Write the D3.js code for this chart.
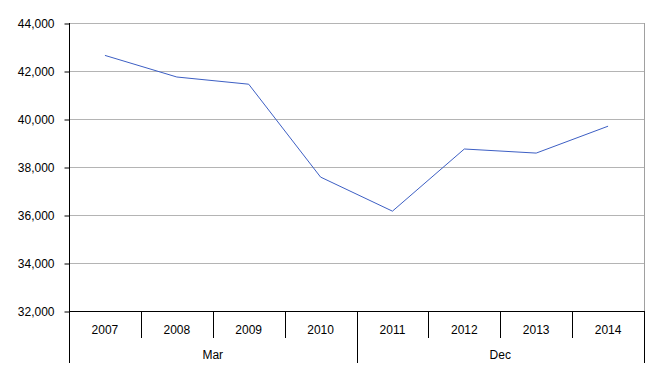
<!DOCTYPE html>
<html>
<head>
<meta charset="utf-8">
<script src="https://cdn.jsdelivr.net/npm/d3@7"></script>
<style>
  body { margin: 0; background: #fff; }
  text { font-family: Arial, "Liberation Sans", sans-serif; font-size: 12px; fill: #000; }
</style>
</head>
<body>
<script>
const years = ["2007", "2008", "2009", "2010", "2011", "2012", "2013", "2014"];
const groups = ["Mar", "Mar", "Mar", "Mar", "Dec", "Dec", "Dec", "Dec"];
const values = [42650, 41750, 41450, 37580, 36160, 38750, 38580, 39700];
const yTicks = [32000, 34000, 36000, 38000, 40000, 42000, 44000];

const width = 655, height = 378;
const plotLeft = 69, plotRight = 644, plotTop = 23, plotBottom = 311;

const svg = d3.select("body").append("svg").attr("width", width).attr("height", height);

const x = d3.scaleBand().domain(years).range([plotLeft, plotRight]);
const y = d3.scaleLinear().domain([32000, 44000]).range([plotBottom, plotTop]);

// gridlines
svg.selectAll(".grid")
   .data(yTicks.filter(d => d > 32000))
   .enter().append("line")
   .attr("x1", plotLeft).attr("x2", plotRight)
   .attr("y1", d => y(d) + 0.5).attr("y2", d => y(d) + 0.5)
   .style("stroke", "#b4b4b4");

// right border
svg.append("line")
   .attr("x1", plotRight + 0.5).attr("x2", plotRight + 0.5)
   .attr("y1", plotTop).attr("y2", plotBottom)
   .style("stroke", "#a0a0a0");

// y axis
const yAxis = svg.append("g")
   .attr("transform", `translate(${plotLeft + 0.5},0.5)`)
   .call(d3.axisLeft(y).tickValues(yTicks).tickFormat(d3.format(",")).tickSize(5).tickPadding(10));
yAxis.select(".domain").remove();
yAxis.selectAll("line").style("stroke", "#000");
yAxis.selectAll("text").style("font-size", "12px").style("font-family", "Arial, 'Liberation Sans', sans-serif");

// left axis line extends to bottom of group labels
svg.append("line")
   .attr("x1", plotLeft + 0.5).attr("x2", plotLeft + 0.5)
   .attr("y1", plotTop).attr("y2", 363)
   .style("stroke", "#000");

// bottom axis
svg.append("line")
   .attr("x1", plotLeft).attr("x2", plotRight + 1)
   .attr("y1", plotBottom + 0.5).attr("y2", plotBottom + 0.5)
   .style("stroke", "#000");

// year separators
svg.selectAll(".sep")
   .data(years.slice(1))
   .enter().append("line")
   .attr("x1", d => Math.round(x(d)) + 0.5).attr("x2", d => Math.round(x(d)) + 0.5)
   .attr("y1", plotBottom).attr("y2", 338)
   .style("stroke", "#000");

// year labels
svg.selectAll(".year")
   .data(years)
   .enter().append("text")
   .attr("x", d => x(d) + x.bandwidth() / 2)
   .attr("y", 334)
   .attr("text-anchor", "middle")
   .text(d => d);

// group labels & separators
const groupNames = Array.from(new Set(groups));
groupNames.forEach(g => {
  const idx = groups.map((v, i) => v === g ? i : -1).filter(i => i >= 0);
  const x0 = x(years[idx[0]]);
  const x1 = x(years[idx[idx.length - 1]]) + x.bandwidth();
  svg.append("text")
     .attr("x", (x0 + x1) / 2)
     .attr("y", 359)
     .attr("text-anchor", "middle")
     .text(g);
  svg.append("line")
     .attr("x1", Math.round(x1) + 0.5).attr("x2", Math.round(x1) + 0.5)
     .attr("y1", plotBottom).attr("y2", 363)
     .style("stroke", "#000");
});

// line
const line = d3.line()
   .x((d, i) => x(years[i]) + x.bandwidth() / 2)
   .y(d => y(d));

svg.append("path")
   .datum(values)
   .attr("d", line)
   .style("fill", "none")
   .style("stroke", "#3d5fc4")
   .style("stroke-width", 1);
</script>
</body>
</html>
